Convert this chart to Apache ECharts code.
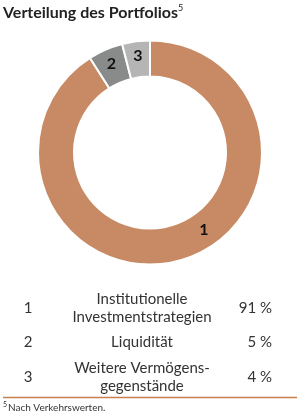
<!DOCTYPE html>
<html><head><meta charset="utf-8">
<script src="https://cdn.jsdelivr.net/npm/echarts@6/dist/echarts.min.js"></script>
<style>html,body{margin:0;padding:0;background:#fff}#c{width:300px;height:419px}</style>
</head><body><div id="c"></div>
<script>
var segmentIds = ['1', '2', '3'];
var categoryLines = [['Institutionelle', 'Investmentstrategien'], ['Liquidität'], ['Weitere Vermögens-', 'gegenstände']];
var shares = [91, 5, 4];
var shareLabels = ['91 %', '5 %', '4 %'];
var colors = ['#C88A64', '#898B8A', '#B4B5B4'];

var chart = echarts.init(document.getElementById('c'), null, {renderer: 'canvas'});
var F = 'Lato, "Open Sans", sans-serif';
var cx = 150, cy = 152.5, rOut = 112, rIn = 76;

var graphics = [
  {type: 'text', left: 3, top: 5, style: {text: 'Verteilung des Portfolios', font: 'bold 16px ' + F, fill: '#222'}},
  {type: 'text', left: 178, top: 4, style: {text: '5', font: '9px ' + F, fill: '#222'}}
];
var rowCenters = [308, 342, 377];
for (var i = 0; i < segmentIds.length; i++) {
  var yc = rowCenters[i];
  graphics.push({type: 'text', x: 28, y: yc, style: {text: segmentIds[i], font: '15px ' + F, fill: '#333', textAlign: 'center', textVerticalAlign: 'middle'}});
  var lines = categoryLines[i];
  for (var j = 0; j < lines.length; j++) {
    var ly = lines.length === 1 ? yc : yc + (j === 0 ? -9 : 9);
    graphics.push({type: 'text', x: 142, y: ly, style: {text: lines[j], font: '15px ' + F, fill: '#333', textAlign: 'center', textVerticalAlign: 'middle'}});
  }
  graphics.push({type: 'text', x: 272, y: yc, style: {text: shareLabels[i], font: '15px ' + F, fill: '#333', textAlign: 'right', textVerticalAlign: 'middle'}});
}
graphics.push({type: 'line', shape: {x1: 3, y1: 397.5, x2: 297, y2: 397.5}, style: {stroke: '#C9804F', lineWidth: 1.5}});
graphics.push({type: 'text', left: 3, top: 401, style: {text: '5', font: '7px ' + F, fill: '#333'}});
graphics.push({type: 'text', left: 8, top: 403, style: {text: 'Nach Verkehrswerten.', font: '10px ' + F, fill: '#333'}});

chart.setOption({
  animation: false,
  graphic: graphics,
  series: [{
    type: 'pie',
    center: [cx, cy],
    radius: [rIn, rOut],
    startAngle: 90,
    clockwise: true,
    avoidLabelOverlap: false,
    itemStyle: {borderColor: '#fff', borderWidth: 2},
    label: {show: true, position: 'inside', formatter: function (p) { return segmentIds[p.dataIndex]; },
            color: '#111', fontSize: 16, fontWeight: 'bold', fontFamily: F},
    labelLine: {show: false},
    labelLayout: function (p) {
      if (p.dataIndex === 0) {
        var a = 145 * Math.PI / 180, r = (rIn + rOut) / 2;
        return {x: cx + r * Math.sin(a), y: cy - r * Math.cos(a), align: 'center', verticalAlign: 'middle'};
      }
      return {};
    },
    emphasis: {disabled: true},
    data: shares.map(function (v, i) { return {value: v, name: segmentIds[i], itemStyle: {color: colors[i]}}; })
  }]
});
</script></body></html>
